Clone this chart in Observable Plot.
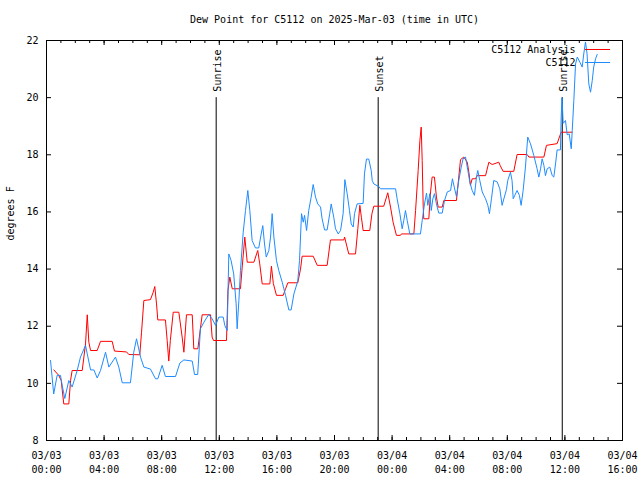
<!DOCTYPE html>
<html><head><meta charset="utf-8">
<script src="https://cdn.jsdelivr.net/npm/d3@7"></script>
<script src="https://cdn.jsdelivr.net/npm/@observablehq/plot@0.6"></script>
<style>body{margin:0;background:#fff}</style>
</head><body><div id="chart"></div>
<script>
const title = "Dew Point for C5112 on 2025-Mar-03 (time in UTC)";
const yLabel = "degrees F";
const startTime = "2025-03-03T00:00:00Z";
const endTime = "2025-03-04T16:00:00Z";
const yTicks = [8, 10, 12, 14, 16, 18, 20, 22];
const seriesNames = ["C5112 Analysis", "C5112"];
const seriesColors = ["#ff0000", "#1e8cff"];
const eventNames = ["Sunrise", "Sunset", "Sunrise"];
const eventTimes = ["2025-03-03T11:47:00Z", "2025-03-03T23:02:00Z", "2025-03-04T11:49:00Z"];
const eventTop = 20;

// hours after 03/03 00:00 UTC
const analysisHours = [0.51,0.85,1.02,1.2,1.55,1.67,1.78,2.48,2.71,2.83,2.94,3.06,3.52,3.75,4.56,4.72,5.56,5.72,6.48,6.6,6.76,7.22,7.41,7.52,7.64,7.73,8.26,8.38,8.49,8.6,8.8,9.19,9.42,9.54,9.72,10.12,10.23,10.51,10.81,11.39,11.5,11.6,12.5,12.6,12.73,12.9,13.47,13.59,13.77,13.94,14.4,14.67,14.81,14.98,15.51,15.62,15.75,15.97,16.44,16.6,16.76,17.45,17.64,17.75,18.52,18.8,19.49,19.72,20.65,20.7,20.99,21.46,21.62,21.76,21.87,21.99,22.45,22.6,22.73,23.42,23.7,23.89,24.07,24.3,24.58,24.65,25.51,25.63,25.81,25.93,26.02,26.09,26.16,26.2,26.55,26.67,26.78,26.94,27.08,27.2,27.48,27.59,28.47,28.63,28.75,28.98,29.22,29.33,29.44,29.56,29.79,29.91,30.49,30.72,30.95,31.41,31.5,31.71,32.45,32.68,33.38,33.5,34.54,34.72,35.46,35.74,36.5];
const analysisValues = [10.47,10.28,10.1,9.28,9.28,10.1,10.45,10.45,11.38,12.4,11.44,11.15,11.15,11.47,11.47,11.13,11.1,11.01,11.0,11.79,12.9,12.93,13.19,13.39,12.78,12.22,12.22,11.5,10.78,11.5,12.49,12.49,11.62,11.09,12.4,12.4,11.21,11.21,12.4,12.4,11.62,11.5,11.5,13.25,13.72,13.31,13.31,14.07,15.12,14.24,14.24,14.65,14.18,13.48,13.48,14.1,13.5,13.08,13.08,13.31,13.52,13.52,14.0,14.45,14.45,14.13,14.13,15.02,15.02,15.12,14.53,14.53,15.41,16.23,15.8,15.35,15.35,15.94,16.2,16.2,16.67,16.17,15.64,15.18,15.18,15.23,15.23,16.05,17.45,18.5,18.97,17.8,16.17,15.76,15.76,16.7,17.22,17.22,16.52,16.17,16.17,16.4,16.4,17.22,17.83,17.92,17.74,17.39,16.93,17.16,17.16,17.27,17.27,17.74,17.66,17.74,17.63,17.42,17.42,18.01,18.01,17.92,17.92,18.33,18.39,18.79,18.79];

const stationHours = [0.28,0.5,0.74,0.97,1.09,1.27,1.55,1.78,2.13,2.36,2.71,2.83,3.06,3.29,3.52,3.75,4.1,4.33,4.79,5.02,5.26,5.83,6.06,6.25,6.53,6.76,7.22,7.57,7.73,8.03,8.26,8.96,9.26,9.54,10.12,10.28,10.5,10.69,10.93,11.27,11.5,11.74,11.97,12.27,12.38,12.55,12.66,12.82,13.0,13.17,13.24,13.36,13.47,13.66,13.82,13.98,14.12,14.28,14.51,14.74,14.91,15.02,15.14,15.26,15.44,15.56,15.67,15.79,15.97,16.13,16.37,16.6,16.83,16.99,17.18,17.45,17.57,17.71,17.83,17.92,18.06,18.21,18.38,18.52,18.68,18.84,19.03,19.14,19.31,19.49,19.67,19.77,19.95,20.07,20.26,20.42,20.6,20.72,20.88,21.04,21.16,21.3,21.39,21.57,21.99,22.08,22.22,22.38,22.55,22.62,22.73,23.08,23.19,24.24,24.35,24.54,24.7,24.81,24.93,25.05,25.23,25.97,26.09,26.25,26.39,26.48,26.62,26.72,26.83,26.94,27.08,27.24,27.48,27.64,27.83,28.06,28.19,28.33,28.47,28.63,28.8,28.93,29.1,29.26,29.4,29.56,29.72,29.86,29.95,30.09,30.26,30.37,30.49,30.65,30.76,30.9,31.06,31.3,31.48,31.64,31.76,31.94,32.03,32.22,32.33,32.41,32.52,32.68,32.84,32.96,33.1,33.26,33.42,33.61,33.84,34.07,34.19,34.31,34.42,34.54,34.65,34.77,34.95,35.12,35.23,35.35,35.46,35.69,35.74,35.8,35.88,36.04,36.16,36.3,36.44,36.51,36.62,36.74,36.86,37.04,37.2,37.31,37.43,37.54,37.66,37.78,37.9,38.0,38.13,38.24];
const stationValues = [10.8,9.63,10.28,10.28,9.93,9.47,10.1,9.87,10.45,10.92,11.33,11.03,10.47,10.47,10.19,10.45,11.09,10.57,10.92,10.57,10.02,10.02,11.09,11.56,10.92,10.57,10.5,10.16,10.16,10.63,10.24,10.24,10.71,10.82,10.78,10.31,10.31,11.91,12.14,12.41,12.26,12.03,12.32,12.32,12.03,11.85,14.53,14.3,13.83,12.78,11.91,12.9,13.95,15.29,16.05,16.75,16.05,15.0,14.74,14.74,15.23,15.52,14.88,14.42,14.65,15.12,15.94,15.12,14.3,13.95,13.54,13.08,12.57,12.57,13.13,13.58,14.3,15.94,15.64,15.88,15.35,16.05,16.52,16.96,16.52,16.28,16.17,15.76,15.37,15.37,15.94,16.28,15.81,15.41,15.23,15.35,15.94,17.13,16.64,16.05,15.58,15.47,15.94,16.28,16.3,17.33,17.85,17.85,17.45,17.1,16.98,16.89,16.81,16.81,16.46,15.94,15.41,15.7,16.05,15.7,15.23,15.23,15.7,16.28,16.66,16.23,16.64,16.05,16.46,16.64,16.28,15.96,15.96,16.4,16.7,16.75,17.16,16.84,16.54,17.1,17.57,17.86,17.92,17.45,17.04,16.75,16.58,17.22,17.45,17.1,16.7,16.58,16.46,16.23,15.94,16.46,17.1,17.05,16.81,16.23,16.46,16.78,17.1,17.39,17.1,16.46,16.58,16.75,16.58,16.23,16.75,17.57,18.62,18.39,17.98,17.51,17.22,17.51,17.86,17.63,17.27,17.51,17.57,17.27,17.22,17.68,18.17,18.17,19.3,20.0,19.1,19.2,18.7,18.73,18.21,18.85,19.9,21.18,21.42,21.24,21.07,21.53,21.95,21.53,20.48,20.19,20.6,21.07,21.36,21.51];

const t0 = new Date(startTime);
const t1 = new Date(endTime);
const toDate = h => new Date(+t0 + h * 3600000);
const analysis = analysisHours.map((h, i) => ({t: toDate(h), v: analysisValues[i]}));
const station = stationHours.map((h, i) => ({t: toDate(h), v: stationValues[i]}));
const events = eventNames.map((n, i) => ({name: n, t: new Date(eventTimes[i])}));
const majorTicks = d3.utcHour.every(4).range(t0, new Date(+t1 + 1));
const minorTicks = d3.utcHour.range(t0, new Date(+t1 + 1));
const fmt = d => d3.utcFormat("%m/%d")(d) + "\n" + d3.utcFormat("%H:%M")(d);

const W = 640, H = 480, mL = 46, mR = 18, mT = 40, mB = 40;
const innerW = W - mL - mR, innerH = H - mT - mB;
const maj = 5, mnr = 3;

const svg = Plot.plot({
  width: W, height: H,
  marginLeft: mL, marginRight: mR, marginTop: mT, marginBottom: mB,
  style: {fontFamily: "'DejaVu Sans Mono', monospace", fontSize: "10px", background: "white", color: "black"},
  x: {type: "utc", domain: [t0, t1], axis: null},
  y: {domain: [8, 22], axis: null},
  marks: [
    Plot.tickX(minorTicks, {x: d => d, stroke: "black", insetTop: innerH - mnr}),
    Plot.tickX(minorTicks, {x: d => d, stroke: "black", insetBottom: innerH - mnr}),
    Plot.tickX(majorTicks, {x: d => d, stroke: "black", insetTop: innerH - maj}),
    Plot.tickX(majorTicks, {x: d => d, stroke: "black", insetBottom: innerH - maj}),
    Plot.tickY(yTicks, {y: d => d, stroke: "black", insetRight: innerW - maj}),
    Plot.tickY(yTicks, {y: d => d, stroke: "black", insetLeft: innerW - maj}),
    Plot.ruleX(events, {x: "t", y1: 8, y2: eventTop, stroke: "black", strokeWidth: 1}),
    Plot.text(events, {x: "t", y: eventTop, text: "name", rotate: -90, textAnchor: "start", lineAnchor: "middle", dy: -6, dx: 2, fill: "black"}),
    Plot.line(analysis, {x: "t", y: "v", stroke: seriesColors[0], strokeWidth: 1}),
    Plot.line(station, {x: "t", y: "v", stroke: seriesColors[1], strokeWidth: 1}),
    Plot.frame({stroke: "black"}),
    Plot.text(yTicks, {y: d => d, text: d => String(d), frameAnchor: "left", textAnchor: "end", lineAnchor: "middle", dx: -8, fill: "black"}),
    Plot.text(majorTicks, {x: d => d, text: fmt, frameAnchor: "bottom", lineAnchor: "top", dy: 9, lineHeight: 1.4, fill: "black"}),
    Plot.text([title], {text: d => d, frameAnchor: "top", lineAnchor: "middle", dy: -21, fill: "black"}),
    Plot.text([yLabel], {text: d => d, frameAnchor: "left", lineAnchor: "middle", dx: -36, rotate: -90, fill: "black"}),
    Plot.text([seriesNames[0]], {text: d => d, frameAnchor: "top-right", textAnchor: "end", lineAnchor: "middle", dx: -47, dy: 9, fill: "black"}),
    Plot.text([seriesNames[1]], {text: d => d, frameAnchor: "top-right", textAnchor: "end", lineAnchor: "middle", dx: -47, dy: 22, fill: "black"})
  ]
});

const sel = d3.select(svg);
seriesColors.forEach((c, i) => {
  sel.append("line")
    .attr("x1", 585).attr("x2", 610)
    .attr("y1", 49.5 + i * 13).attr("y2", 49.5 + i * 13)
    .attr("stroke", c).attr("stroke-width", 1);
});
document.getElementById("chart").appendChild(svg);
</script>
</body></html>
